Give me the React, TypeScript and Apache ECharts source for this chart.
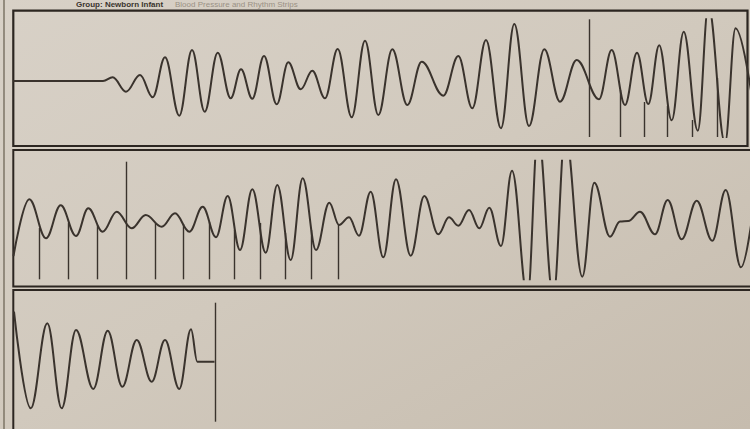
import React, { useEffect, useRef } from "react";
import * as echarts from "echarts";

// ---- Strip 1: wave turning points [t, deflection] (strip units, deflection measured downward)
const strip1Wave: [number, number][] = [
  [13.3, 81], [103, 81], [112.7, 77.3], [126, 91.7], [140, 75], [152.7, 97.3],
  [165, 57.3], [179.3, 115.7], [192, 50], [204.7, 111.7], [217.7, 52.7], [230.7, 98.3],
  [241, 69.3], [252.3, 98.7], [264, 56], [276.7, 104.3], [288.3, 62.3], [300.7, 89.3],
  [312.3, 70.7], [325, 98.3], [337.7, 49], [351.7, 117.3], [365, 40.7], [378.3, 115],
  [392.3, 49.3], [407.3, 105], [421.7, 61.7], [443.3, 95.7], [458.3, 56], [472.3, 108.3],
  [486, 40], [501, 128.3], [514.3, 24], [529, 126], [544.3, 49.3], [560, 101.7],
  [576.7, 60], [599, 99.3], [611.7, 50], [625, 105], [637, 52.7], [648.3, 104],
  [659.2, 45.3], [671.7, 120.3], [683.7, 31.7], [697.8, 130.7], [708.4, 6], [725, 143],
  [735.5, 28.3], [756, 125],
];
// pacing spikes [t, top, bottom]
const strip1Spikes: [number, number, number][] = [
  [589.5, 19.3, 137], [620.5, 90, 137], [644.3, 102, 137], [667.7, 106, 137],
  [692.7, 120, 137], [717.7, 78, 137],
];

// ---- Strip 2
const strip2Wave: [number, number][] = [
  [13.5, 256], [29.3, 199.3], [46, 238.3], [60.7, 205.3], [76, 236], [88.3, 208.3],
  [102.7, 231.7], [116.7, 211.7], [131.7, 228.3], [145.7, 215], [161.7, 226.7], [175, 213.3],
  [189.3, 231.7], [202.7, 206.7], [216, 237.3], [227.7, 196], [240, 250], [252.3, 189.3],
  [265.7, 252.7], [277.3, 185], [290.7, 260], [302.7, 178.3], [316, 250], [329.3, 202.7],
  [339, 225], [349, 217.3], [359, 235.7], [370.7, 191.7], [383.3, 257.3], [396, 179.3],
  [410.7, 255.7], [424.3, 196], [438.3, 234.3], [449, 217.3], [458.3, 225.7], [469, 210],
  [479.3, 228.3], [489.3, 207.7], [501, 246], [512, 170.7], [527.5, 297], [538, 133],
  [553.3, 297], [565.3, 133], [582.3, 276.7], [594.3, 182.7], [610, 236.7], [620, 221.5],
  [628.3, 221], [640, 211.7], [655, 234.3], [667.7, 200], [681.7, 239.3], [696.7, 200.7],
  [712.3, 240.7], [725.7, 190], [741, 267.3], [756, 188],
];
const strip2Spikes: [number, number, number][] = [
  [39.3, 228, 279.3], [68.3, 223, 279.3], [97.3, 225, 279.3], [126, 161.7, 279.3],
  [155.7, 223, 279.3], [183.3, 224, 279.3], [209.3, 222, 279.3], [234.3, 230, 279.3],
  [260.7, 223, 279.3], [285.7, 233, 279.3], [311.7, 230, 279.3], [338.3, 225, 279.3],
];

// ---- Strip 3
const strip3Wave: [number, number][] = [
  [14, 311.7], [30.7, 408.3], [47.3, 323.3], [61.7, 408.3], [76, 330], [93.3, 389],
  [107.7, 330.7], [122.3, 386.7], [136.7, 340], [151.7, 381.7], [165, 340], [179.3, 389],
  [191, 329.3], [197.3, 361.7], [214.5, 361.7],
];
const strip3Spikes: [number, number, number][] = [[215, 302.7, 421.7]];

const H = 429;
const W = 750;
const INK = "#3a332d";
const FRAME = "#2c2621";

export default function App() {
  const ref = useRef<HTMLDivElement>(null);
  useEffect(() => {
    document.body.style.margin = "0";
    if (!ref.current) return;
    const chart = echarts.init(ref.current, undefined, { renderer: "svg" });

    // each strip: recorder's clipping window
    const strips = [
      { wave: strip1Wave, spikes: strip1Spikes, x0: 13.3, x1: 747.5, y0: 19.3, y1: 137 },
      { wave: strip2Wave, spikes: strip2Spikes, x0: 13.3, x1: 750, y0: 160.7, y1: 279.3 },
      { wave: strip3Wave, spikes: strip3Spikes, x0: 13.3, x1: 750, y0: 302.7, y1: 421.7 },
    ];

    const grid = strips.map((s) => ({
      left: s.x0,
      right: W - s.x1,
      top: s.y0,
      bottom: H - s.y1,
      show: false,
      containLabel: false,
    }));
    const xAxis = strips.map((s, i) => ({
      type: "value",
      gridIndex: i,
      min: s.x0,
      max: s.x1,
      show: false,
    }));
    const yAxis = strips.map((s, i) => ({
      type: "value",
      gridIndex: i,
      min: s.y0,
      max: s.y1,
      inverse: true,
      show: false,
    }));
    const series = strips.map((s, i) => ({
      type: "line",
      xAxisIndex: i,
      yAxisIndex: i,
      data: s.wave,
      smooth: 0.38,
      smoothMonotone: "x",
      symbol: "none",
      showSymbol: false,
      clip: true,
      silent: true,
      lineStyle: { color: INK, width: 2 },
      markLine: {
        silent: true,
        symbol: ["none", "none"],
        label: { show: false },
        lineStyle: { type: "solid", color: INK, width: 1.4 },
        emphasis: { disabled: true },
        data: s.spikes.map(([t, a, b]) => [
          { coord: [t, a] },
          { coord: [t, b] },
        ]),
      },
    }));

    const frameStyle = { fill: "none", stroke: FRAME, lineWidth: 2 };
    chart.setOption({
      animation: false,
      backgroundColor: "#d2cabe",
      graphic: [
        {
          type: "rect",
          z: -10,
          shape: { x: 0, y: 0, width: W, height: H },
          style: {
            fill: new echarts.graphic.LinearGradient(0, 0, 1, 1, [
              { offset: 0, color: "#d8d1c7" },
              { offset: 0.5, color: "#d1c9bd" },
              { offset: 1, color: "#c6bcae" },
            ]),
          },
          silent: true,
        },
        {
          type: "line",
          shape: { x1: 4, y1: 0, x2: 4, y2: H },
          style: { stroke: "#7d7466", lineWidth: 1.5 },
          silent: true,
        },
        {
          type: "text",
          x: 76,
          y: 0,
          style: {
            text: "Group: Newborn Infant",
            font: 'bold 8px "Liberation Sans", Arial, sans-serif',
            fill: "#3a342e",
            verticalAlign: "top",
          },
          silent: true,
        },
        {
          type: "text",
          x: 175,
          y: 0,
          style: {
            text: "Blood Pressure and Rhythm Strips",
            font: '8px "Liberation Sans", Arial, sans-serif',
            fill: "#9a9184",
            verticalAlign: "top",
          },
          silent: true,
        },
        {
          type: "rect",
          shape: { x: 13.3, y: 10.7, width: 747.5 - 13.3, height: 146 - 10.7 },
          style: { ...frameStyle, lineWidth: 2.2 },
          silent: true,
        },
        {
          type: "rect",
          shape: { x: 13.3, y: 150, width: 760, height: 136.5 },
          style: frameStyle,
          silent: true,
        },
        {
          type: "rect",
          shape: { x: 13.3, y: 290, width: 760, height: 160 },
          style: frameStyle,
          silent: true,
        },
      ],
      grid,
      xAxis,
      yAxis,
      series,
    });
    return () => chart.dispose();
  }, []);
  return <div ref={ref} style={{ width: W, height: H }} />;
}
